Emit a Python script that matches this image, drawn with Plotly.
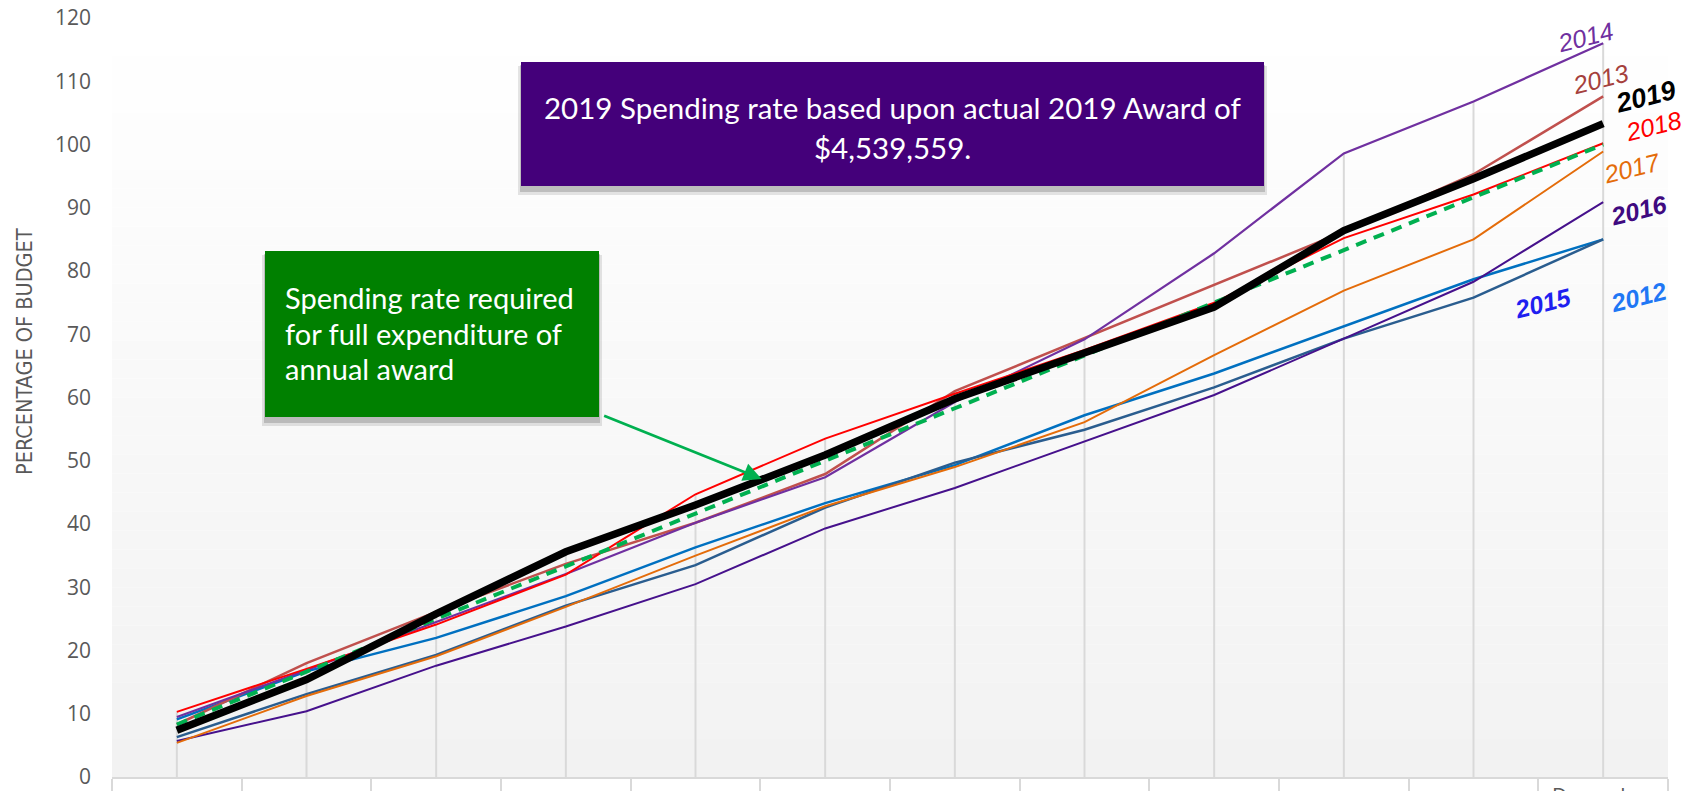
import plotly.graph_objects as go

months = ["January", "February", "March", "April", "May", "June", "July",
          "August", "September", "October", "November", "December"]
y2012 = [9.1, 16.7, 22.0, 28.6, 36.3, 43.3, 49.3, 57.2, 63.8, 71.2, 78.7, 85.0]
y2013 = [8.3, 18.0, 26.1, 33.7, 40.2, 47.9, 61.0, 69.4, 77.9, 86.2, 95.3, 107.6]
y2014 = [9.5, 16.9, 24.5, 32.1, 40.2, 47.4, 59.3, 69.2, 82.8, 98.6, 106.8, 116.0]
y2015 = [6.3, 13.1, 19.3, 27.1, 33.5, 42.6, 49.7, 54.9, 61.6, 69.3, 75.8, 85.0]
y2016 = [5.7, 10.4, 17.6, 23.8, 30.5, 39.3, 45.7, 53.0, 60.4, 69.3, 78.3, 90.9]
y2017 = [5.4, 12.8, 19.1, 26.9, 35.0, 42.8, 49.0, 56.1, 66.7, 76.9, 85.0, 98.9]
y2018 = [10.3, 17.1, 24.1, 32.0, 44.7, 53.5, 60.6, 67.5, 75.0, 85.2, 92.1, 100.2]
y2019 = [7.4, 15.4, 25.8, 35.6, 43.0, 50.9, 59.8, 67.0, 74.3, 86.4, 94.6, 103.3]
required = [8.3, 16.7, 25.0, 33.3, 41.7, 50.0, 58.3, 66.7, 75.0, 83.3, 91.7, 100.0]
yticks = [0, 10, 20, 30, 40, 50, 60, 70, 80, 90, 100, 110, 120]

W, H = 1684, 791
L, R, T, B = 112, 1668, 18, 777

x = list(range(len(months)))
series = [
    ("2012", y2012, "#0070C0", 2.5),
    ("2013", y2013, "#C0504D", 2.5),
    ("2014", y2014, "#7030A0", 2.2),
    ("2015", y2015, "#2A5D8F", 2.5),
    ("2016", y2016, "#46118C", 2.0),
    ("2017", y2017, "#E46C0A", 2.0),
    ("2018", y2018, "#FF0000", 2.0),
]

fig = go.Figure()

# drop lines (from highest series value to the axis)
allv = [s[1] for s in series] + [y2019, required]
dx, dy = [], []
for i in x:
    dx += [i, i, None]
    dy += [0, max(v[i] for v in allv), None]
fig.add_trace(go.Scatter(x=dx, y=dy, mode="lines", line=dict(color="#d9d9d9", width=2),
                         hoverinfo="skip", showlegend=False))

for name, vals, col, w in series:
    fig.add_trace(go.Scatter(x=x, y=vals, mode="lines", name=name,
                             line=dict(color=col, width=w), showlegend=False))
fig.add_trace(go.Scatter(x=x, y=required, mode="lines", name="Required",
                         line=dict(color="#00B050", width=4, dash="11px,8px"), showlegend=False))
fig.add_trace(go.Scatter(x=x, y=y2019, mode="lines", name="2019",
                         line=dict(color="#000000", width=7.5), showlegend=False))


def px(p):
    return (p - L) / (R - L)


def py(p):
    return (B - p) / (B - T)


shapes = []
# gradient plot background
nb = 40
for k in range(nb):
    g0 = k / nb
    g1 = (k + 1) / nb
    lvl = round(242 + 13 * (k + 0.5) / nb)
    shapes.append(dict(type="rect", xref="paper", yref="paper", x0=0, x1=1, y0=g0, y1=g1,
                       fillcolor=f"rgb({lvl},{lvl},{lvl})", line=dict(width=0), layer="below"))

annotations = []


def box(x0, y0, x1, y1, color):
    shapes.append(dict(type="rect", xref="paper", yref="paper", x0=px(x0 - 3), x1=px(x1 + 3),
                       y0=py(y1 + 9), y1=py(y0 + 4), fillcolor="rgba(0,0,0,0.10)",
                       line=dict(width=0), layer="above"))
    shapes.append(dict(type="rect", xref="paper", yref="paper", x0=px(x0 - 1), x1=px(x1 + 1),
                       y0=py(y1 + 6), y1=py(y0 + 3), fillcolor="rgba(0,0,0,0.16)",
                       line=dict(width=0), layer="above"))
    shapes.append(dict(type="rect", xref="paper", yref="paper", x0=px(x0), x1=px(x1),
                       y0=py(y1), y1=py(y0), fillcolor=color, line=dict(width=0), layer="above"))


box(521, 62, 1264, 186, "#44007A")
box(265, 251, 599, 417, "#008000")

TF = "Lato, Open Sans, sans-serif"
for txt, cy in [("2019 Spending rate based upon actual 2019 Award of", 108),
                ("$4,539,559.", 148)]:
    annotations.append(dict(text=txt, xref="paper", yref="paper", x=px(892.5), y=py(cy),
                            xanchor="center", yanchor="middle", showarrow=False,
                            font=dict(family=TF, size=29.5, color="white")))
for txt, cy in [("Spending rate required", 297), ("for full expenditure of", 333),
                ("annual award", 368)]:
    annotations.append(dict(text=txt, xref="paper", yref="paper", x=px(283), y=py(cy),
                            xanchor="left", yanchor="middle", showarrow=False,
                            font=dict(family=TF, size=29, color="white")))

# arrow
annotations.append(dict(text="", x=4.51, y=47.1, xref="x", yref="y", ax=-159, ay=-64,
                        showarrow=True, arrowhead=2, arrowsize=1.3, arrowwidth=2.8,
                        arrowcolor="#00B050", standoff=0))

# series labels
labels = [
    ("2014", 1585, 37, "#7030A0", False, 25),
    ("2013", 1600, 79, "#A5403C", False, 25),
    ("2019", 1645, 97, "#000000", True, 27),
    ("2018", 1653, 126, "#FF0000", False, 25),
    ("2017", 1632, 168, "#E46C0A", False, 25),
    ("2016", 1639, 210, "#3F0A80", True, 25),
    ("2015", 1543, 303, "#1F1FF0", True, 25),
    ("2012", 1638, 297, "#1F77F5", True, 25),
]
for txt, cx, cy, col, bold, sz in labels:
    annotations.append(dict(text=f"<b>{txt}</b>" if bold else txt, xref="paper", yref="paper",
                            x=px(cx), y=py(cy), xanchor="center", yanchor="middle",
                            showarrow=False, textangle=-14,
                            font=dict(family="Liberation Sans, Arial", size=sz, color=col,
                                      style="italic")))

# y axis title
annotations.append(dict(text="PERCENTAGE OF BUDGET", xref="paper", yref="paper",
                        x=px(24), y=py(352), xanchor="center", yanchor="middle",
                        showarrow=False, textangle=-90,
                        font=dict(family="Liberation Sans Narrow, DejaVu Sans Condensed, sans-serif",
                                  size=21.5, color="#595959")))
# x label (only the last is visible in the cropped chart)
annotations.append(dict(text=months[-1], xref="x", yref="paper", x=11, y=0,
                        xanchor="center", yanchor="top", yshift=-3, showarrow=False,
                        font=dict(family="Open Sans", size=21, color="#595959")))

fig.update_layout(
    width=W, height=H,
    margin=dict(l=L, r=W - R, t=T, b=H - B, pad=0, autoexpand=False),
    paper_bgcolor="white", plot_bgcolor="white",
    shapes=shapes, annotations=annotations,
    xaxis=dict(range=[-0.5, 11.5], showgrid=False, zeroline=False, automargin=False,
               tickmode="array", tickvals=[i - 0.5 for i in range(len(months) + 1)],
               ticktext=[""] * (len(months) + 1), ticks="outside", ticklen=16,
               tickcolor="#d9d9d9", tickwidth=2, showline=True, linecolor="#d9d9d9",
               linewidth=2),
    yaxis=dict(range=[0, 120], showgrid=False, zeroline=False, showline=False,
               automargin=False,
               tickmode="array", tickvals=yticks, ticks="",
               ticklabelstandoff=20,
               tickfont=dict(family="Open Sans", size=21, color="#595959")),
)

fig.write_html("out.html", config={"displayModeBar": False},
               post_script="document.body.style.margin='0';document.body.style.overflow='hidden';")
